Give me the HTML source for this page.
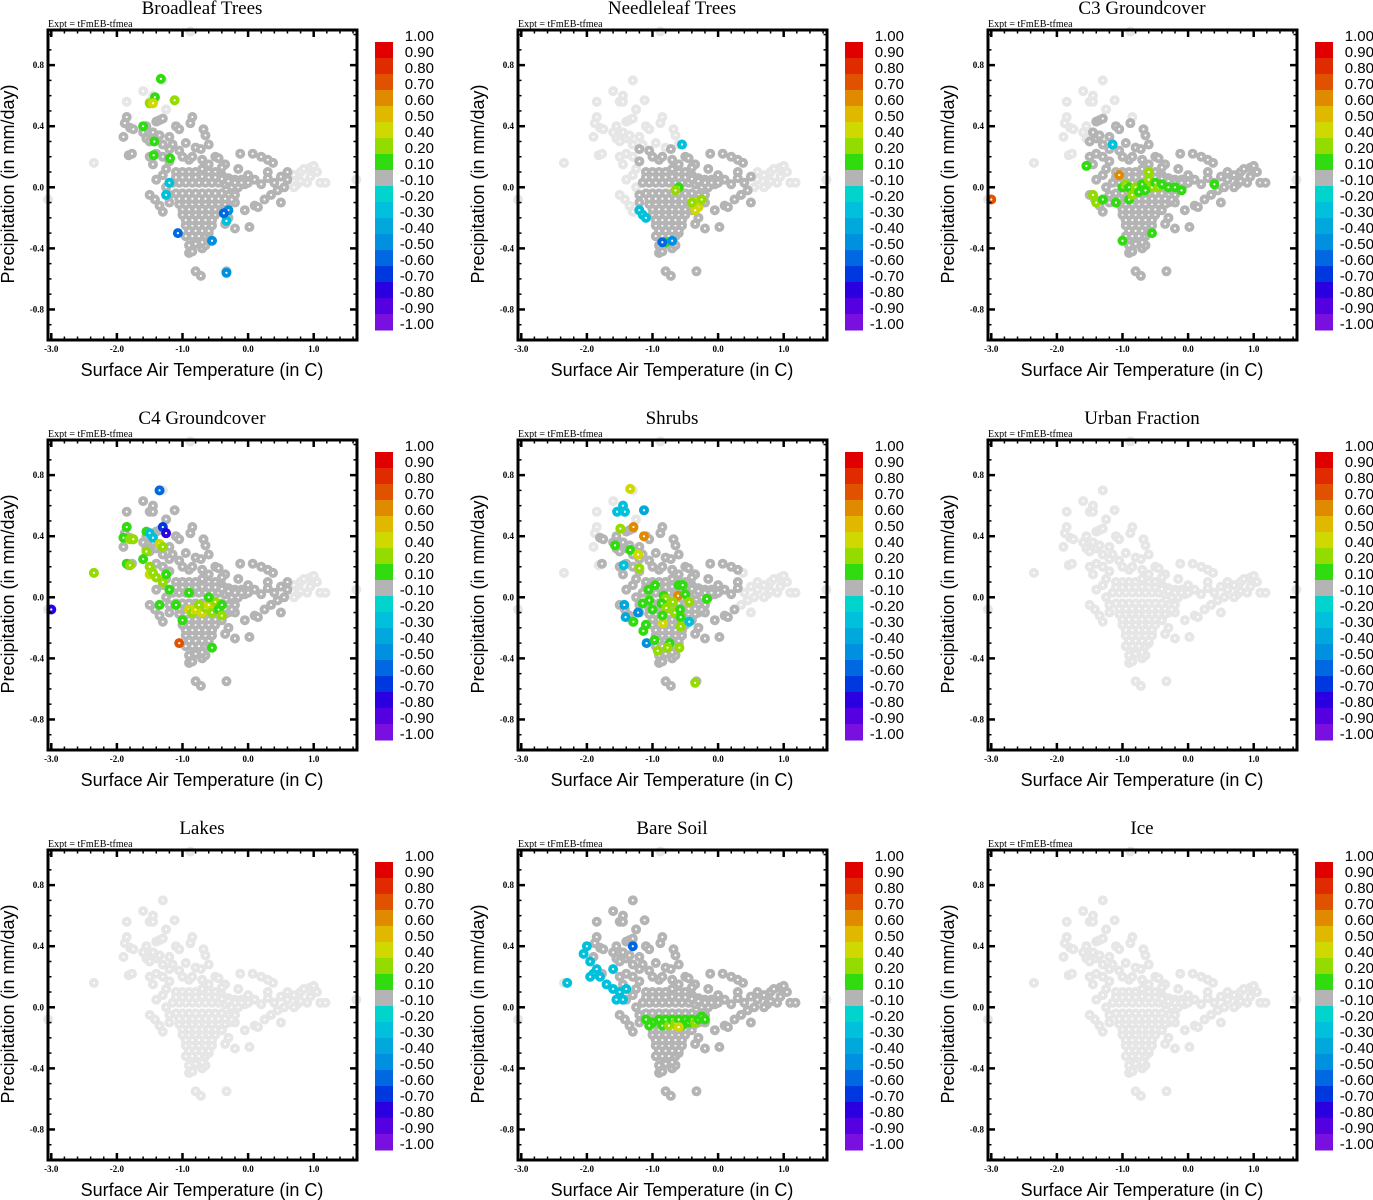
<!DOCTYPE html>
<html><head><meta charset="utf-8"><style>
html,body{margin:0;padding:0;background:#fff;}
svg{display:block;}
.serif{font-family:"Liberation Serif",serif;}
.sans{font-family:"Liberation Sans",sans-serif;}
</style></head><body>
<svg id="fig" width="1373" height="1200" viewBox="0 0 1373 1200" xmlns="http://www.w3.org/2000/svg"></svg>
<script>
// ---- data ----
const panelTitles = ["Broadleaf Trees","Needleleaf Trees","C3 Groundcover","C4 Groundcover","Shrubs","Urban Fraction","Lakes","Bare Soil","Ice"];
const xTicks = [-3.0,-2.0,-1.0,0.0,1.0];
const xTickLabels = ["-3.0","-2.0","-1.0","0.0","1.0"];
const yTicks = [-0.8,-0.4,0.0,0.4,0.8];
const yTickLabels = ["-0.8","-0.4","0.0","0.4","0.8"];
const cbLabels = ["1.00","0.90","0.80","0.70","0.60","0.50","0.40","0.20","0.10","-0.10","-0.20","-0.30","-0.40","-0.50","-0.60","-0.70","-0.80","-0.90","-1.00"];
const cbColors = ["#e00000","#e02a00","#e05200","#e08a00","#e0b800","#cfd800","#94dc00","#30dc10","#b4b4b4","#00d4cc","#00c0dc","#00a8dc","#0090e0","#0068e0","#0038e0","#2a00e0","#5400e0","#7a10e0"];
// shared base cloud (x = temp, y = precip)
const baseX = [-2.35,-1.9,-1.85,-1.85,-1.88,-1.8,-1.75,-1.82,-1.77,-1.6,-1.5,-1.45,-1.45,-1.3,-1.25,-1.12,-0.85,-0.88,-1.4,-1.35,-1.3,-1.55,-1.6,-1.55,-1.5,-1.45,-1.4,-1.35,-1.3,-1.2,-1.15,-1.1,-1.05,-0.68,-0.65,-0.6,-0.95,-0.8,-0.72,-0.5,-0.45,-0.35,-0.12,0.07,0.2,0.3,0.38,-1.5,-1.45,-1.4,-1.3,-1.2,-1.0,-0.9,-1.4,-1.5,-1.42,-1.35,-1.3,-1.2,-1.2,-0.3,-0.2,0.02,-0.35,-0.4,-0.3,-0.2,-0.8,-0.72,-0.33,-0.9,-0.85,-0.7,-0.65,1.65,-3.05,-0.88,
0.1,0.2,0.3,0.4,0.5,0.6,0.7,0.8,0.85,0.95,1.0,1.05,1.1,1.18,0.9,0.75,0.55,0.45,0.35,0.25,0.1,0.5,-0.05,0.15,0.6,0.7,0.8,0.95,0.3,0.0,
-1.1,-1.0,-0.9,-0.8,-0.7,-0.6,-0.5,-0.4,-0.3,-0.2,-0.1,
-1.15,-1.05,-0.95,-0.85,-0.75,-0.65,-0.55,-0.45,-0.35,-0.25,-0.15,-0.05,
-1.1,-1.0,-0.9,-0.8,-0.7,-0.6,-0.5,-0.4,-0.3,-0.2,
-1.05,-0.95,-0.85,-0.75,-0.65,-0.55,-0.45,-0.35,
-1.0,-0.9,-0.8,-0.7,-0.6,-0.5,
-0.95,-0.85,-0.75,-0.65,-0.55,
-0.95,-0.85,-0.75,-0.65,-0.6,
-0.9,-0.8,-0.7,
-1.25,-1.3,-1.2,-1.05,-0.85,-0.7,-0.6,-0.4,-0.15,-1.25,
-1.1,-1.0,-0.9,-0.8,-0.7,-0.6,-0.5,-0.4,-0.3,-0.2,-0.1,0.0,
-1.05,-0.95,-0.85,-0.75,-0.65,-0.55,-0.45,-0.35,-0.25,
-1.0,-0.9,-0.8,-0.7,-0.6,-0.5,-0.4,
-0.95,-0.85,-0.75,-0.65,-0.55,
-0.9,-0.8,-0.7,-0.6];
const baseY = [0.16,0.33,0.56,0.46,0.42,0.39,0.38,0.21,0.22,0.63,0.56,0.6,0.56,0.7,0.51,0.57,0.46,0.42,0.43,0.44,0.45,0.4,0.36,0.32,0.3,0.36,0.32,0.34,0.28,0.33,0.28,0.4,0.38,0.38,0.34,0.28,0.29,0.26,0.25,0.2,0.19,0.15,0.22,0.22,0.2,0.18,0.16,0.2,0.15,0.22,0.2,0.17,0.2,0.18,0.05,-0.05,-0.08,-0.12,-0.16,-0.1,-0.05,-0.2,-0.27,-0.26,-0.24,-0.13,-0.1,-0.1,-0.55,-0.58,-0.55,-0.43,-0.42,-0.4,-0.38,0.05,-0.08,1.02,
0.05,0.02,0.06,0.03,0.07,0.05,0.08,0.1,0.12,0.13,0.14,0.1,0.03,0.03,0.03,0.02,0.0,-0.02,-0.05,-0.08,-0.12,-0.1,-0.15,-0.13,0.1,0.0,0.04,0.07,0.1,0.08,
0.1,0.1,0.1,0.1,0.12,0.1,0.1,0.08,0.06,0.05,0.05,
0.03,0.03,0.03,0.03,0.03,0.03,0.03,0.03,0.02,0.0,0.0,0.02,
-0.04,-0.04,-0.04,-0.04,-0.04,-0.04,-0.04,-0.04,-0.05,-0.05,
-0.11,-0.11,-0.11,-0.11,-0.11,-0.11,-0.11,-0.11,
-0.18,-0.18,-0.18,-0.18,-0.18,-0.18,
-0.25,-0.25,-0.25,-0.25,-0.25,
-0.32,-0.32,-0.32,-0.32,-0.3,
-0.38,-0.37,-0.36,
0.12,0.08,0.25,0.24,0.2,0.18,0.15,0.13,0.12,0.0,
0.065,0.065,0.065,0.065,0.07,0.065,0.065,0.055,0.04,0.03,0.03,0.03,
-0.075,-0.075,-0.075,-0.075,-0.075,-0.075,-0.075,-0.075,-0.08,
-0.145,-0.145,-0.145,-0.145,-0.145,-0.145,-0.15,
-0.215,-0.215,-0.215,-0.215,-0.215,
-0.285,-0.285,-0.285,-0.285];
// dark-gray (near-zero correlation) region per panel
const darkXMin = [-1.9,-1.2,-1.5,-1.9,-1.8,9,9,-2.0,9];
const darkXMax = [0.6,0.5,1.3,0.6,0.3,-9,-9,1.3,-9];
const darkYMax = [0.5,0.25,0.45,0.65,0.5,-9,-9,0.7,-9];
// colored points per panel
const ptX = [
 [-1.33,-1.42,-1.5,-1.45,-1.12,-1.6,-1.43,-1.44,-1.19,-1.07,-0.33,-0.3,-0.37,-0.33,-1.25,-1.2,-0.55],
 [-0.55,-0.6,-0.65,-1.2,-1.15,-1.1,-0.35,-0.3,-0.35,-0.4,-0.25,-0.8,-0.85,-0.7],
 [-3.0,-1.55,-1.15,-1.05,-1.45,-1.4,-1.3,-1.1,-1.0,-0.95,-0.9,-0.8,-0.7,-0.6,-0.55,-0.5,-0.45,-0.4,-0.3,-0.2,-0.1,0.4,-0.6,-0.9,-0.55,-1.0,-0.85,-0.75,-0.65],
 [-3.0,-2.35,-1.35,-1.85,-1.9,-1.8,-1.75,-1.85,-1.8,-1.55,-1.5,-1.45,-1.3,-1.25,-1.35,-1.3,-1.55,-1.6,-1.5,-1.5,-1.45,-1.4,-1.3,-1.2,-1.25,-1.35,-1.1,-0.9,-0.85,-0.8,-0.75,-0.7,-0.65,-0.6,-0.55,-0.5,-0.45,-0.4,-0.4,-0.9,-1.0,-1.05,-0.55,-0.6],
 [-1.34,-1.45,-1.54,-1.42,-1.13,-1.49,-1.29,-1.13,-1.57,-1.34,-1.22,-1.2,-1.44,-1.43,-1.41,-1.22,-1.29,-1.1,-1.14,-1.09,-1.15,-1.05,-1.0,-1.06,-0.96,-0.83,-0.8,-0.86,-0.79,-0.66,-0.61,-0.6,-0.54,-0.5,-0.58,-0.57,-0.69,-0.44,-0.17,-0.84,-0.85,-0.57,-0.97,-0.74,-0.77,-0.59,-0.92,-0.35,-0.44],
 [],
 [],
 [-2.3,-2.0,-2.05,-1.95,-1.9,-1.95,-1.85,-1.8,-1.7,-1.6,-1.5,-1.4,-1.55,-1.45,-1.3,-1.6,-1.1,-1.0,-0.9,-0.85,-0.8,-0.75,-0.7,-0.65,-0.6,-0.55,-0.5,-0.45,-0.4,-0.35,-0.3,-0.25,-0.2,-1.05,-0.6],
 []
];
const ptY = [
 [0.71,0.59,0.55,0.55,0.57,0.4,0.3,0.21,0.19,-0.3,-0.22,-0.15,-0.17,-0.56,-0.05,0.03,-0.35],
 [0.28,0.0,-0.02,-0.15,-0.18,-0.2,-0.1,-0.13,-0.15,-0.1,-0.08,-0.36,-0.36,-0.35],
 [-0.08,0.14,0.28,0.08,-0.05,-0.1,-0.08,-0.1,0.0,0.02,0.0,0.0,0.02,0.05,0.0,0.03,0.0,0.02,0.0,0.0,-0.02,0.02,0.1,-0.08,-0.3,-0.35,-0.05,-0.03,-0.02],
 [-0.08,0.16,0.7,0.46,0.39,0.38,0.38,0.22,0.21,0.43,0.42,0.39,0.46,0.42,0.35,0.33,0.3,0.25,0.2,0.15,0.16,0.13,0.1,0.05,0.15,-0.05,-0.05,-0.08,-0.1,-0.08,-0.05,-0.1,-0.07,-0.05,-0.1,-0.03,-0.08,-0.05,-0.12,0.03,-0.15,-0.3,-0.33,0.0],
 [0.71,0.6,0.56,0.56,0.57,0.45,0.46,0.4,0.34,0.31,0.28,0.19,0.21,-0.05,-0.13,-0.1,-0.16,-0.18,-0.22,-0.3,-0.04,-0.02,-0.08,0.05,0.08,0.01,-0.01,-0.04,-0.07,-0.1,0.01,0.08,0.08,0.02,-0.08,-0.13,-0.03,-0.03,-0.01,-0.17,-0.12,-0.19,-0.28,-0.3,-0.33,-0.33,-0.35,-0.56,-0.16],
 [],
 [],
 [0.16,0.4,0.35,0.3,0.22,0.2,0.25,0.2,0.15,0.12,0.1,0.12,0.05,0.05,0.4,0.25,-0.08,-0.1,-0.08,-0.12,-0.08,-0.12,-0.08,-0.1,-0.08,-0.12,-0.08,-0.1,-0.08,-0.1,-0.08,-0.06,-0.08,-0.12,-0.13],
 []
];
const ptV = [
 [0.15,0.15,0.3,0.45,0.3,0.15,0.15,0.15,0.15,-0.55,-0.25,-0.45,-0.55,-0.45,-0.25,-0.25,-0.5],
 [-0.3,0.15,0.3,-0.3,-0.25,-0.25,0.4,0.45,0.4,0.3,0.3,0.15,-0.6,-0.5],
 [0.75,0.15,-0.3,0.6,0.35,0.35,0.15,0.15,0.15,0.3,0.15,0.3,0.15,0.3,0.35,0.15,0.3,0.15,0.15,0.15,0.15,0.15,0.3,0.15,0.15,0.15,0.3,0.15,0.15],
 [-0.75,0.3,-0.55,0.15,0.15,0.3,0.3,0.15,0.3,0.15,-0.3,-0.25,-0.7,-0.75,0.45,0.3,0.3,0.15,0.3,0.45,0.35,0.3,0.3,0.15,0.15,0.15,0.15,0.4,0.35,0.45,0.3,0.45,0.35,0.4,0.3,0.3,0.15,0.15,0.3,0.15,0.15,0.7,0.15,0.15],
 [0.45,-0.25,-0.25,-0.3,-0.35,0.3,0.6,0.65,0.15,0.15,0.4,0.3,-0.25,-0.35,-0.35,-0.5,0.15,0.15,0.15,-0.5,0.15,0.15,0.15,0.15,0.15,0.15,0.3,0.15,0.3,0.3,0.6,0.15,0.15,0.15,0.15,0.15,0.3,0.3,0.15,0.45,0.15,0.3,0.15,0.15,0.3,0.3,0.3,0.3,-0.25],
 [],
 [],
 [-0.25,-0.25,-0.3,-0.25,-0.3,-0.25,-0.25,-0.25,-0.25,-0.3,-0.25,-0.25,-0.25,-0.3,-0.55,-0.3,0.15,0.15,0.15,0.15,0.15,0.3,0.15,0.3,0.15,0.15,0.15,0.15,0.15,0.3,0.15,0.15,0.15,0.15,0.4],
 []
];

// ---- drawing ----
const NS = "http://www.w3.org/2000/svg";
const svg = document.getElementById("fig");
function mk(tag, attrs, parent){ const e=document.createElementNS(NS,tag); for(const k in attrs) e.setAttribute(k,attrs[k]); (parent||svg).appendChild(e); return e; }
const PL=48, PR=357, PT=30, PB=340;
const X0=-3.05, X1=1.66, Y0=-1.0, Y1=1.03;
function sx(v){ return PL + (v-X0)/(X1-X0)*(PR-PL); }
function sy(v){ return PB - (v-Y0)/(Y1-Y0)*(PB-PT); }
const cbEdges=[1.0,0.9,0.8,0.7,0.6,0.5,0.4,0.2,0.1,-0.1,-0.2,-0.3,-0.4,-0.5,-0.6,-0.7,-0.8,-0.9,-1.0];
function colorFor(v){ for(let i=0;i<18;i++){ if(v<=cbEdges[i] && v>=cbEdges[i+1]) return cbColors[i]; } return cbColors[8]; }

for(let p=0;p<9;p++){
  const c=p%3, r=Math.floor(p/3);
  const g=mk("g",{transform:`translate(${c*470},${r*410})`});
  
  
  const t=mk("text",{x:202,y:14,"text-anchor":"middle","font-size":19,class:"serif"},g); t.textContent=panelTitles[p];
   
  const ex=mk("text",{x:48,y:27,"font-size":10,class:"serif"},g); ex.textContent="Expt = tFmEB-tfmea";
   
  // points
  const pg=mk("g",{},g);
   
  const drawPt=(x,y,col)=>{ const e=mk("circle",{cx:sx(x),cy:sy(y),r:5,fill:col},pg);
     
    const d=mk("circle",{cx:sx(x),cy:sy(y),r:1.1,fill:"#fff"},pg);
      };
  for(let i=0;i<baseX.length;i++){
    const dark = baseX[i]>=darkXMin[p] && baseX[i]<=darkXMax[p] && baseY[i]<=darkYMax[p];
    if(!dark) drawPt(baseX[i],baseY[i],"#e6e6e6");
  }
  for(let i=0;i<baseX.length;i++){
    const dark = baseX[i]>=darkXMin[p] && baseX[i]<=darkXMax[p] && baseY[i]<=darkYMax[p];
    if(dark) drawPt(baseX[i],baseY[i],"#b4b4b4");
  }
  for(let i=0;i<ptX[p].length;i++) drawPt(ptX[p][i],ptY[p][i],colorFor(ptV[p][i]));
  // frame
  const fr=mk("rect",{x:PL,y:PT,width:PR-PL,height:PB-PT,fill:"none",stroke:"#000","stroke-width":3},g);
   
  // ticks
  for(let v=-3.0; v<=1.61; v+=0.2){
    const X=sx(v); const major=Math.abs(v-Math.round(v))<1e-6;
    const L=major?7:3.5, w=major?2.5:1.5;
    mk("line",{x1:X,y1:PB,x2:X,y2:PB-L,stroke:"#000","stroke-width":w},g);
    mk("line",{x1:X,y1:PT,x2:X,y2:PT+L,stroke:"#000","stroke-width":w},g);
  }
  for(let k=-10;k<=10;k++){
    const v=k/10, Y=sy(v); if(Y<PT||Y>PB) continue;
    const major=(k%4===0); const L=major?7:3.5, w=major?2.5:1.5;
    mk("line",{x1:PL,y1:Y,x2:PL+L,y2:Y,stroke:"#000","stroke-width":w},g);
    mk("line",{x1:PR,y1:Y,x2:PR-L,y2:Y,stroke:"#000","stroke-width":w},g);
  }
  xTicks.forEach((v,i)=>{ const e=mk("text",{x:sx(v),y:352,"text-anchor":"middle","font-size":9,"font-weight":"bold",class:"serif"},g); e.textContent=xTickLabels[i];
      });
  yTicks.forEach((v,i)=>{ const e=mk("text",{x:44,y:sy(v)+3,"text-anchor":"end","font-size":9,"font-weight":"bold",class:"serif"},g); e.textContent=yTickLabels[i];
      });
  const xt=mk("text",{x:202,y:376,"text-anchor":"middle","font-size":18,class:"sans"},g); xt.textContent="Surface Air Temperature (in C)";
   
  const yt=mk("text",{x:0,y:0,"text-anchor":"middle","font-size":18,class:"sans",transform:"translate(14,184) rotate(-90)"},g); yt.textContent="Precipitation (in mm/day)";
   
  // colorbar
  const cb=mk("g",{},g);
   
  for(let i=0;i<18;i++){ const e=mk("rect",{x:375,y:42+i*16,width:18,height:16.5,fill:cbColors[i]},cb);
      }
  cbLabels.forEach((s,i)=>{ const e=mk("text",{x:434,y:42+i*16-1,"text-anchor":"end","font-size":15,class:"sans"},cb); e.textContent=s;
      });
}
</script>
</body></html>
